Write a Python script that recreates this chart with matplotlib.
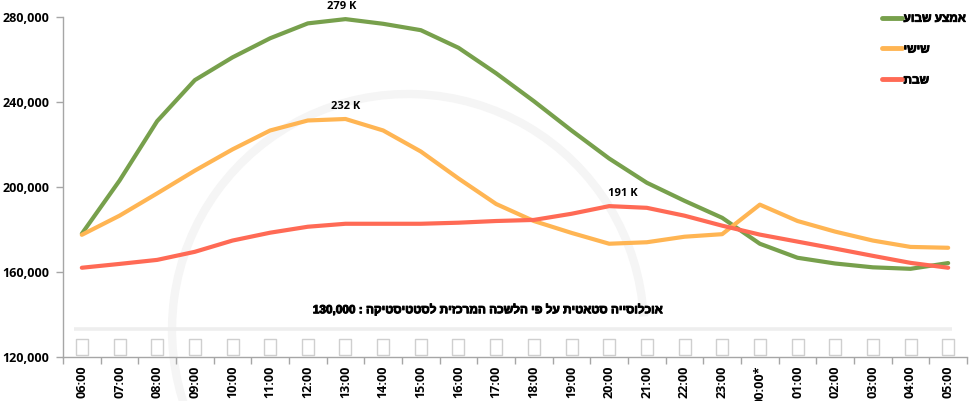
import matplotlib
matplotlib.use("Agg")
import matplotlib.pyplot as plt
from matplotlib.patches import Arc
import matplotlib.patheffects as pe
import numpy as np

plt.rcParams['font.family'] = ['Open Sans', 'Liberation Sans', 'DejaVu Sans']
HEB = ['Liberation Sans', 'DejaVu Sans']
bold_fx = [pe.withStroke(linewidth=0.7, foreground='black')]

hours = ["06:00", "07:00", "08:00", "09:00", "10:00", "11:00", "12:00", "13:00",
         "14:00", "15:00", "16:00", "17:00", "18:00", "19:00", "20:00", "21:00",
         "22:00", "23:00", "00:00*", "01:00", "02:00", "03:00", "04:00", "05:00"]

weekday = [178000, 203000, 231000, 250300, 261000, 270000, 277000, 279000,
           276800, 273800, 265500, 253500, 240400, 226600, 213400, 202000,
           193500, 185500, 173300, 166700, 164000, 162200, 161500, 164200]
friday = [177500, 186500, 197000, 207700, 217700, 226600, 231300, 232000,
          226600, 216700, 204000, 192000, 184000, 178400, 173300, 174000,
          176600, 177800, 191700, 184000, 179000, 174800, 171800, 171400]
saturday = [162000, 163800, 165700, 169500, 174800, 178500, 181300, 182700,
            182700, 182700, 183200, 184000, 184500, 187400, 191000, 190200,
            186500, 181800, 177600, 174300, 171000, 167600, 164300, 162000]
static_pop = [133000] * 24
box_level = [124600] * 24

labels = ["אמצע שבוע", "שישי", "שבת"]
note = "אוכלוסייה סטאטית על פי הלשכה המרכזית לסטטיסטיקה"
note_value = "130,000"

def vis(s):
    # right-to-left text shown in visual order
    return s[::-1]

colors = ["#77A04C", "#FFB553", "#FF6A55"]

fig = plt.figure(figsize=(9.76, 4.01), dpi=100)

# faint background watermark swoosh
fig.add_artist(Arc((408/976, 1-330/401), 2*236/976, 2*236/401, theta1=8, theta2=250,
                   ec='#F5F5F5', lw=6, zorder=0))

ax = fig.add_axes([63/976, 1-357/401, (967-63)/976, (357-17)/401])
ax.patch.set_alpha(0)

x = np.arange(len(hours))

# static population line
ax.plot(np.r_[x[0]-0.2, x[1:-1], x[-1]+0.1], static_pop, color="#EEEEEE", lw=2.6,
        solid_capstyle='butt', zorder=1)
box = [(-0.36, -0.5), (0.36, -0.5), (0.36, 0.5), (-0.36, 0.5), (-0.36, -0.5)]
ax.plot(x, box_level, ls='none', marker=box, markersize=12, mfc='white',
        mec='#CFCFCF', mew=1.0, zorder=2)

for series, lab, c in zip([weekday, friday, saturday], labels, colors):
    ax.plot(x, series, color=c, lw=3.0, solid_capstyle='round',
            solid_joinstyle='round', label=vis(lab), zorder=3)

ax.set_xlim(-0.5, len(hours)-0.5)
ax.set_ylim(120000, 280000)
ax.set_yticks([120000, 160000, 200000, 240000, 280000])
ax.set_yticklabels([f"{v:,}" for v in [120000, 160000, 200000, 240000, 280000]],
                   fontsize=9, fontweight='bold')
ax.set_xticks(x)
ax.set_xticklabels(hours, rotation=90, fontsize=9, fontweight='bold', va='top')
ax.set_xticks(np.arange(-0.5, len(hours), 1), minor=True)
ax.tick_params(axis='x', which='major', length=0, pad=6)
ax.tick_params(axis='x', which='minor', length=5, color='#A6A6A6', width=1)
ax.tick_params(axis='y', length=5, color='#A6A6A6', width=1, pad=5)
for s in ['top', 'right']:
    ax.spines[s].set_visible(False)
for s in ['left', 'bottom']:
    ax.spines[s].set_color('#A6A6A6')
    ax.spines[s].set_linewidth(1)

# peak labels
i_w = int(np.argmax(weekday))
ax.annotate(f"{round(weekday[i_w]/1000)} K", (x[i_w], weekday[i_w]), xytext=(-3, 5),
            textcoords='offset points', ha='center', va='bottom', fontsize=8, fontweight='bold')
i_f = int(np.argmax(friday))
ax.annotate(f"{round(friday[i_f]/1000)} K", (x[i_f], friday[i_f]), xytext=(0, 5),
            textcoords='offset points', ha='center', va='bottom', fontsize=8, fontweight='bold')
i_s = int(np.argmax(saturday))
ax.annotate(f"{round(saturday[i_s]/1000)} K", (x[i_s], saturday[i_s]), xytext=(10, 5),
            textcoords='offset points', ha='center', va='bottom', fontsize=8, fontweight='bold')

ax.text(10.75, 142000, f"{note_value} : " + vis(note), ha='center', va='center',
        fontsize=8.5, fontweight='bold', family=HEB, path_effects=bold_fx)

leg = fig.legend(loc='upper left', bbox_to_anchor=(877/976, 1-8/401), frameon=False,
                 handlelength=1.7, handletextpad=0.15, labelspacing=1.6,
                 borderaxespad=0, prop={'family': HEB, 'weight': 'bold', 'size': 8.5})
for lh in leg.get_lines():
    lh.set_linewidth(3.5)
for t in leg.get_texts():
    t.set_path_effects([pe.withStroke(linewidth=0.6, foreground='black')])

fig.savefig("out.png", dpi=100)
